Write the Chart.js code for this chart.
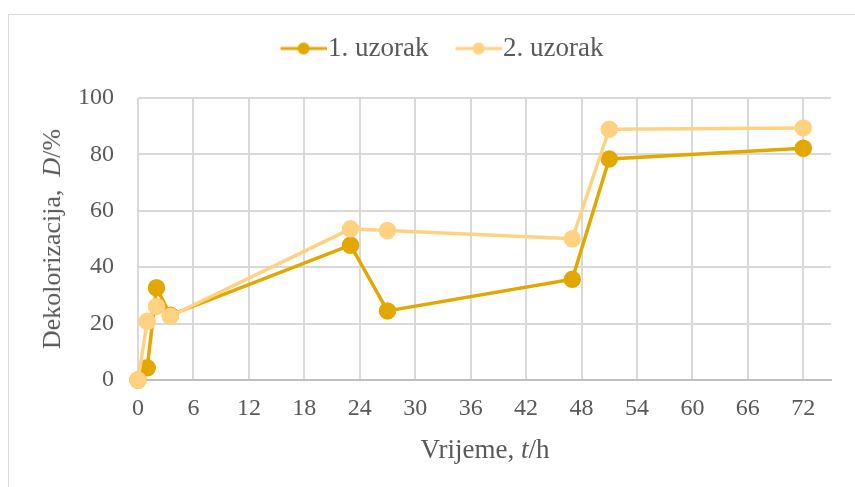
<!DOCTYPE html>
<html>
<head>
<meta charset="utf-8">
<script src="https://cdn.jsdelivr.net/npm/chart.js@4/dist/chart.umd.min.js"></script>
<style>
  html, body { margin: 0; padding: 0; background: #fff; }
  #wrap { position: relative; width: 855px; height: 487px; overflow: hidden; }
  #frame { position: absolute; left: 8px; top: 14px; width: 900px; height: 520px; border: 1.5px solid #d9d9d9; box-sizing: border-box; }
  canvas { position: absolute; left: 0; top: 0; }
  .ttl { position: absolute; font-family: "Liberation Serif", serif; font-size: 26px; color: #595959; white-space: nowrap; }
  #ytitle { left: 52px; top: 239px; transform: translate(-50%, -50%) rotate(-90deg); }
  #xtitle { left: 485px; top: 449px; transform: translate(-50%, -50%); font-size: 27px; }
</style>
</head>
<body>
<div id="wrap">
  <div id="frame"></div>
  <canvas id="chart" width="855" height="487"></canvas>
  <div class="ttl" id="ytitle">Dekolorizacija, &nbsp;<i>D</i>/%</div>
  <div class="ttl" id="xtitle">Vrijeme, <i>t</i>/h</div>
</div>
<script>
// vrijeme (h) i dekolorizacija (%)
const hours = [0, 1, 2, 3.5, 23, 27, 47, 51, 72];
const sample1 = [0, 4.3, 32.7, 23, 47.8, 24.5, 35.7, 78.4, 82.2];
const sample2 = [0, 20.8, 26.1, 22.6, 53.6, 53, 50.1, 88.9, 89.4];
const seriesNames = ["1. uzorak", "2. uzorak"];
const colors = ["#e2a700", "#ffd282"];
const xTicks = [0, 6, 12, 18, 24, 30, 36, 42, 48, 54, 60, 66, 72];
const yTicks = [0, 20, 40, 60, 80, 100];

const toXY = (vals) => vals.map((v, i) => ({ x: hours[i], y: v }));
const serif = "Liberation Serif";

// legend marker: line with a dot, shifted right so it sits close to the text
function legendIcon(color) {
  const c = document.createElement("canvas");
  c.width = 70; c.height = 16;
  const g = c.getContext("2d");
  g.strokeStyle = color; g.lineWidth = 3;
  g.beginPath(); g.moveTo(24, 8); g.lineTo(70, 8); g.stroke();
  g.fillStyle = color;
  g.beginPath(); g.arc(47, 8, 6, 0, Math.PI * 2); g.fill();
  return c;
}

const datasets = [sample1, sample2].map((vals, i) => ({
  label: seriesNames[i],
  data: toXY(vals),
  borderColor: colors[i],
  backgroundColor: colors[i],
  borderWidth: 3.5,
  pointRadius: 7,
  pointHoverRadius: 7,
  tension: 0,
  clip: false,
  order: 1 - i, // 2. uzorak on top like in Excel
}));

// extra room under the legend
const legendGap = {
  id: "legendGap",
  beforeInit(chart) {
    const fit = chart.legend.fit;
    chart.legend.fit = function () {
      fit.call(this);
      this.height += 26;
    };
  },
};

new Chart(document.getElementById("chart"), {
  type: "line",
  data: { datasets },
  plugins: [legendGap],
  options: {
    responsive: false,
    animation: false,
    layout: { padding: { left: 41, right: 24, top: 20, bottom: 0 } },
    plugins: {
      legend: {
        position: "top",
        labels: {
          font: { family: serif, size: 27 },
          color: "#595959",
          usePointStyle: true,
          pointStyleWidth: 46,
          padding: 15,
          generateLabels: () =>
            seriesNames.map((name, i) => ({
              text: name,
              pointStyle: legendIcon(colors[i]),
              fillStyle: colors[i],
              strokeStyle: colors[i],
              lineWidth: 0,
              fontColor: "#595959",
              datasetIndex: i,
            })),
        },
      },
      tooltip: { enabled: false },
    },
    scales: {
      x: {
        type: "linear",
        min: 0,
        max: 75,
        afterBuildTicks: (s) => { s.ticks = xTicks.map((v) => ({ value: v })); },
        afterFit: (s) => { s.height = 107; },
        ticks: { padding: 14, color: "#595959", font: { family: serif, size: 24 } },
        grid: { color: "#d9d9d9", lineWidth: 2, drawTicks: false },
        border: { color: "#bfbfbf", width: 2 },
      },
      y: {
        min: 0,
        max: 100,
        afterBuildTicks: (s) => { s.ticks = yTicks.map((v) => ({ value: v })); },
        afterFit: (s) => { s.width = 97; },
        ticks: { padding: 24, color: "#595959", font: { family: serif, size: 24 } },
        grid: { color: "#d9d9d9", lineWidth: 2, drawTicks: false },
        border: { display: false },
      },
    },
  },
});
</script>
</body>
</html>
